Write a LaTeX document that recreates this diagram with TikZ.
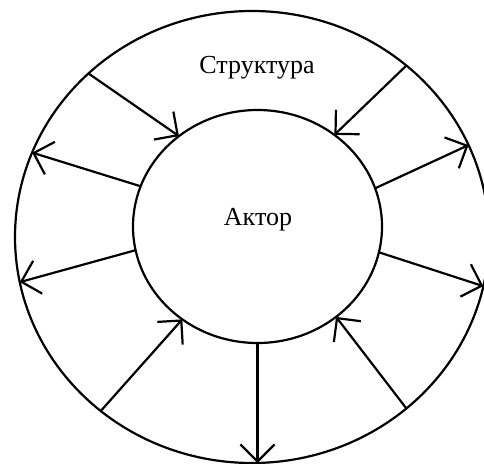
\documentclass[tikz,border=0pt]{standalone}
\usepackage{fontspec}
\setmainfont{Liberation Serif}
\usetikzlibrary{positioning,shapes.geometric,arrows.meta}
\begin{document}
\begin{tikzpicture}
    [x=1pt, y=-1pt,
     ring/.style={ellipse, draw, line width=2.2pt, outer sep=0pt, inner sep=0pt},
     tag/.style={font=\fontsize{26}{30}\selectfont},
     link/.style={line width=2.2pt, -{Straight Barb[length=17pt, width=34pt]}}]
    \useasboundingbox (0,0) rectangle (484,463);

    \node [ring, minimum width=474pt, minimum height=452pt] (structure) at (252,237) {};
    \node [ring, minimum width=249pt, minimum height=233pt] (actor) at (257.5,226.5) {};
    \node [tag] (structname) at (257,68) {Структура};
    \node [tag] (actorname) at (258,220) {Актор};

    \draw [link] (structure.135.5) -- (actor.131.3);
    \draw [link] (structure.48.2) -- (actor.50.1);
    \draw [link] (actor.18) -- (structure.23.5);
    \draw [link] (actor.161.7) -- (structure.159.3);
    \draw [link] (actor.191.8) -- (structure.191.7);
    \draw [link] (actor.348.1) -- (structure.348.8);
    \draw [link] (structure.229.1) -- (actor.231.4);
    \draw [link] (structure.312.7) -- (actor.311.3);
    \draw [link] (actor.south) -- (actor.south |- structure.south);
\end{tikzpicture}
\end{document}
